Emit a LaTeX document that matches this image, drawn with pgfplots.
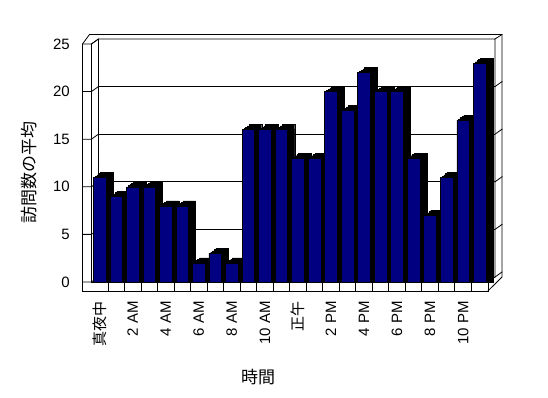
\documentclass[border=0pt]{standalone}
\usepackage{pgfplots}
\usepackage{pgfplotstable}
\pgfplotsset{compat=1.18}
\usepackage{fontspec}
\setmainfont{Liberation Sans}
\newfontfamily\cjk{Noto Sans CJK JP}
\definecolor{barnavy}{HTML}{000080}

\pgfplotstableread{
hour visits
0 11
1 9
2 10
3 10
4 8
5 8
6 2
7 3
8 2
9 16
10 16
11 16
12 13
13 13
14 20
15 18
16 22
17 20
18 20
19 13
20 7
21 11
22 17
23 23
}\visits

\begin{document}
\begin{tikzpicture}
\path[use as bounding box] (0pt,0pt) rectangle (548pt,398pt);
\begin{scope}[x=1pt, y=-1pt, yshift=398pt, line width=0.8pt, line cap=rect]
  % back wall gridlines and right-edge ticks
  \foreach \yb in {277,229.4,181.8,134.2,86.6} {
    \draw (98.4,\yb) -- (495,\yb);
    \draw (495,\yb) -- (502,\yb-5);
  }
  % left wall ticks
  \foreach \yf in {44,91.6,139.2,186.8,234.4,282} {
    \draw (82.5,\yf) -- (91.4,\yf) -- (98.4,\yf-5);
  }
  % left wall front face
  \draw (82.5,291) -- (82.5,44);
  \draw (91.4,282) -- (91.4,44);
  \draw (98.4,39) -- (98.4,277);
  % top and outer edges
  \draw (82.5,44) -- (89.5,34.5) -- (502,34.5) -- (502,277) -- (487.9,291);
  \draw (91.4,44) -- (98.4,39) -- (495,39) -- (495,277);
  \draw (495,39) -- (502,34.5);
  % floor front face
  \draw (82.5,291) -- (487.9,291) -- (487.9,282) -- (91.4,282);
  \draw (487.9,282) -- (495,277);
  \foreach \k in {1,...,23} {
    \draw ({91.4+16.52*\k},282) -- ({91.4+16.52*\k},291);
  }
\end{scope}

\begin{axis}[
  at={(91.4pt,116pt)}, anchor=south west,
  scale only axis, width=396.5pt, height=238pt,
  xmin=-0.5, xmax=23.5, ymin=0, ymax=25,
  clip=false,
  axis line style={draw=none},
  major tick length=0pt,
  xtick={0,2,...,22},
  xticklabels={{\cjk 真夜中},2 AM,4 AM,6 AM,8 AM,10 AM,{\cjk 正午},2 PM,4 PM,6 PM,8 PM,10 PM},
  ytick={0,5,...,25},
  /pgf/number format/assume math mode=true,
  xticklabel style={rotate=90, anchor=east, inner sep=0pt, font=\fontsize{15}{18}\selectfont},
  yticklabel style={anchor=east, inner sep=0pt, font=\fontsize{15}{18}\selectfont},
  xticklabel shift=19pt,
  yticklabel shift=21.4pt,
  shadow/.style={ybar, bar width=12.7pt, fill=black, draw=black, line width=0.4pt},
]
\addplot[shadow, bar shift=7pt] table[x=hour, y=visits] {\visits};
\addplot[shadow, bar shift=1.75pt, yshift=1.25pt] table[x=hour, y=visits] {\visits};
\addplot[shadow, bar shift=3.5pt, yshift=2.5pt] table[x=hour, y=visits] {\visits};
\addplot[shadow, bar shift=5.25pt, yshift=3.75pt] table[x=hour, y=visits] {\visits};
\addplot[shadow, bar shift=7pt, yshift=5pt] table[x=hour, y=visits] {\visits};
\addplot[ybar, bar width=12.7pt, bar shift=0pt, fill=barnavy, draw=black, line width=0.5pt] table[x=hour, y=visits] {\visits};
\end{axis}

\node[rotate=90, font=\cjk\fontsize{17}{20}\selectfont] at (29pt,225pt) {訪問数の平均};
\node[font=\cjk\fontsize{17}{20}\selectfont] at (258pt,21pt) {時間};
\end{tikzpicture}
\end{document}
